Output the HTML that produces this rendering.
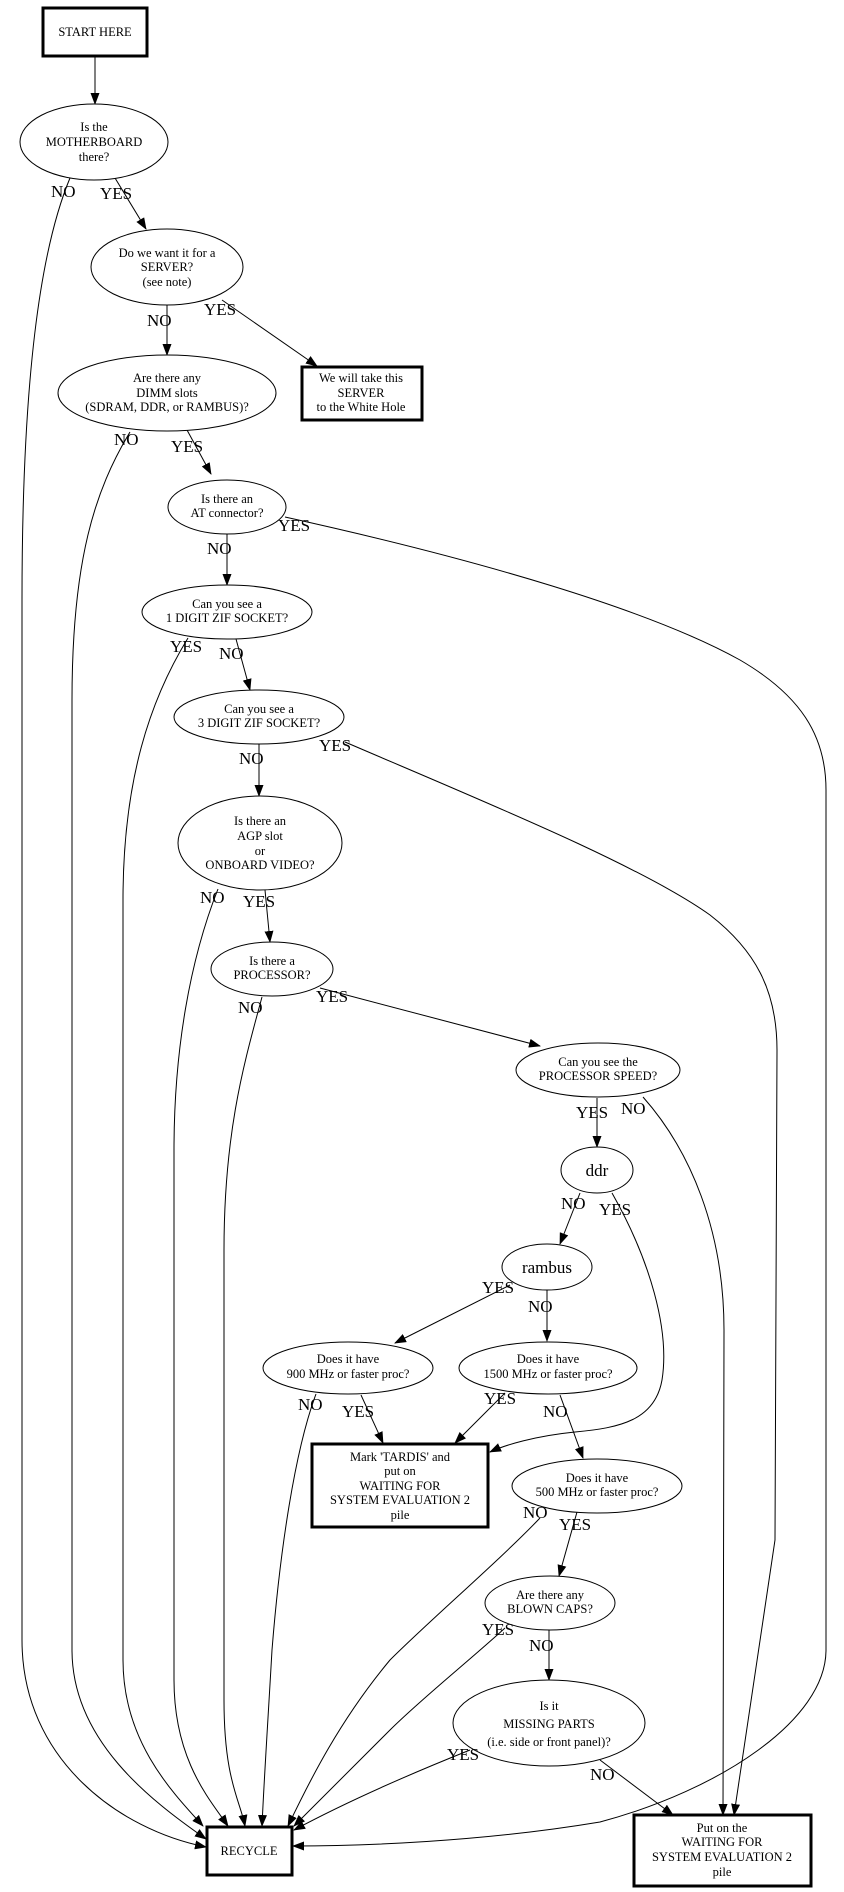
<!DOCTYPE html>
<html><head><meta charset="utf-8"><style>
html,body{margin:0;padding:0;background:#fff}
svg{display:block}
text{font-family:"Liberation Serif",serif;fill:#000}
.n{font-size:12.5px;text-anchor:middle}
.l{font-size:17px}
.e{fill:none;stroke:#000;stroke-width:1}
.s{fill:#fff;stroke:#000;stroke-width:1}
.b{fill:#fff;stroke:#000;stroke-width:3}
</style></head><body>
<svg width="844" height="1892" viewBox="0 0 844 1892" xmlns="http://www.w3.org/2000/svg">
<defs><marker id="a" markerWidth="12" markerHeight="9" refX="11" refY="4.5" orient="auto" markerUnits="userSpaceOnUse"><path d="M0,0 L12,4.5 L0,9 z" fill="#000"/></marker></defs>
<g class="e" marker-end="url(#a)">
<path d="M95,56 L95,104"/>
<path d="M70,178 C40,250 22,380 22,600 L22,1640 C22,1760 120,1830 206,1847"/>
<path d="M115,178 L146,229"/>
<path d="M167,305 L167,355"/>
<path d="M222,300 L317,366"/>
<path d="M130,432 C95,490 72,560 72,700 L72,1650 C72,1740 150,1800 206,1839"/>
<path d="M187,430 L211,474"/>
<path d="M227,534 L227,585"/>
<path d="M285,517 C480,560 650,610 740,660 C800,695 826,735 826,790 L826,1650 C826,1720 720,1790 600,1822 C480,1842 360,1846 293,1846"/>
<path d="M188,638 C150,700 123,780 123,900 L123,1660 C123,1740 170,1790 203,1826"/>
<path d="M236,639 L250,690"/>
<path d="M259,744 L259,796"/>
<path d="M345,742 C480,800 640,865 710,915 C755,950 777,990 777,1050 L775,1540 L734,1815"/>
<path d="M218,889 C190,960 174,1050 174,1150 L174,1680 C174,1760 210,1800 228,1826"/>
<path d="M265,890 L270,942"/>
<path d="M262,997 C245,1060 224,1130 224,1250 L224,1700 C224,1780 240,1800 245,1826"/>
<path d="M320,988 L540,1046"/>
<path d="M597,1098 L597,1147"/>
<path d="M643,1097 C690,1150 724,1230 724,1330 L723,1815"/>
<path d="M580,1193 L560,1244"/>
<path d="M612,1193 C650,1260 670,1330 662,1380 C655,1420 620,1428 575,1432 C535,1436 505,1445 490,1452"/>
<path d="M510,1285 L395,1343"/>
<path d="M547,1290 L547,1341"/>
<path d="M316,1394 C295,1450 280,1550 272,1650 C268,1720 264,1780 262,1826"/>
<path d="M361,1395 L383,1443"/>
<path d="M505,1393 L455,1443"/>
<path d="M560,1395 L583,1458"/>
<path d="M540,1518 C500,1560 430,1620 390,1660 C340,1720 310,1780 288,1826"/>
<path d="M577,1512 L559,1576"/>
<path d="M549,1630 L549,1680"/>
<path d="M505,1628 C470,1660 420,1700 390,1730 C350,1770 320,1800 294,1826"/>
<path d="M470,1750 C420,1770 350,1800 294,1830"/>
<path d="M600,1760 L673,1815"/>
</g>
<rect class="b" x="43" y="8" width="104" height="48"/>
<text class="n" x="95" y="36">START HERE</text>
<ellipse class="s" cx="94" cy="142" rx="74" ry="38"/>
<text class="n" x="94" y="131">Is the</text><text class="n" x="94" y="146">MOTHERBOARD</text><text class="n" x="94" y="161">there?</text>
<ellipse class="s" cx="167" cy="267" rx="76" ry="38"/>
<text class="n" x="167" y="257">Do we want it for a</text><text class="n" x="167" y="271">SERVER?</text><text class="n" x="167" y="286">(see note)</text>
<rect class="b" x="302" y="367" width="120" height="53"/>
<text class="n" x="361" y="382">We will take this</text><text class="n" x="361" y="397">SERVER</text><text class="n" x="361" y="411">to the White Hole</text>
<ellipse class="s" cx="167" cy="393" rx="109" ry="38"/>
<text class="n" x="167" y="382">Are there any</text><text class="n" x="167" y="397">DIMM slots</text><text class="n" x="167" y="411">(SDRAM, DDR, or RAMBUS)?</text>
<ellipse class="s" cx="227" cy="507" rx="59" ry="27"/>
<text class="n" x="227" y="503">Is there an</text><text class="n" x="227" y="517">AT connector?</text>
<ellipse class="s" cx="227" cy="612" rx="85" ry="27"/>
<text class="n" x="227" y="608">Can you see a</text><text class="n" x="227" y="622">1 DIGIT ZIF SOCKET?</text>
<ellipse class="s" cx="259" cy="717" rx="85" ry="27"/>
<text class="n" x="259" y="713">Can you see a</text><text class="n" x="259" y="727">3 DIGIT ZIF SOCKET?</text>
<ellipse class="s" cx="260" cy="843" rx="82" ry="47"/>
<text class="n" x="260" y="825">Is there an</text><text class="n" x="260" y="840">AGP slot</text><text class="n" x="260" y="855">or</text><text class="n" x="260" y="869">ONBOARD VIDEO?</text>
<ellipse class="s" cx="272" cy="969" rx="61" ry="27"/>
<text class="n" x="272" y="965">Is there a</text><text class="n" x="272" y="979">PROCESSOR?</text>
<ellipse class="s" cx="598" cy="1070" rx="82" ry="27"/>
<text class="n" x="598" y="1066">Can you see the</text><text class="n" x="598" y="1080">PROCESSOR SPEED?</text>
<ellipse class="s" cx="597" cy="1170" rx="36" ry="23"/>
<text class="n" x="597" y="1176" style="font-size:17px">ddr</text>
<ellipse class="s" cx="547" cy="1267" rx="45" ry="23"/>
<text class="n" x="547" y="1273" style="font-size:17px">rambus</text>
<ellipse class="s" cx="348" cy="1368" rx="85" ry="26"/>
<text class="n" x="348" y="1363">Does it have</text><text class="n" x="348" y="1378">900 MHz or faster proc?</text>
<ellipse class="s" cx="548" cy="1368" rx="89" ry="26"/>
<text class="n" x="548" y="1363">Does it have</text><text class="n" x="548" y="1378">1500 MHz or faster proc?</text>
<rect class="b" x="312" y="1444" width="176" height="83"/>
<text class="n" x="400" y="1461">Mark 'TARDIS' and</text><text class="n" x="400" y="1475">put on</text><text class="n" x="400" y="1490">WAITING FOR</text><text class="n" x="400" y="1504">SYSTEM EVALUATION 2</text><text class="n" x="400" y="1519">pile</text>
<ellipse class="s" cx="597" cy="1486" rx="85" ry="27"/>
<text class="n" x="597" y="1482">Does it have</text><text class="n" x="597" y="1496">500 MHz or faster proc?</text>
<ellipse class="s" cx="550" cy="1603" rx="65" ry="27"/>
<text class="n" x="550" y="1599">Are there any</text><text class="n" x="550" y="1613">BLOWN CAPS?</text>
<ellipse class="s" cx="549" cy="1723" rx="96" ry="43"/>
<text class="n" x="549" y="1710">Is it</text><text class="n" x="549" y="1728">MISSING PARTS</text><text class="n" x="549" y="1746">(i.e. side or front panel)?</text>
<rect class="b" x="634" y="1815" width="177" height="71"/>
<text class="n" x="722" y="1832">Put on the</text><text class="n" x="722" y="1846">WAITING FOR</text><text class="n" x="722" y="1861">SYSTEM EVALUATION 2</text><text class="n" x="722" y="1876">pile</text>
<rect class="b" x="207" y="1827" width="85" height="48"/>
<text class="n" x="249" y="1855">RECYCLE</text>
<g class="l">
<text x="51" y="197">NO</text><text x="100" y="199">YES</text>
<text x="147" y="326">NO</text><text x="204" y="315">YES</text>
<text x="114" y="445">NO</text><text x="171" y="452">YES</text>
<text x="207" y="554">NO</text><text x="278" y="531">YES</text>
<text x="170" y="652">YES</text><text x="219" y="659">NO</text>
<text x="239" y="764">NO</text><text x="319" y="751">YES</text>
<text x="200" y="903">NO</text><text x="243" y="907">YES</text>
<text x="238" y="1013">NO</text><text x="316" y="1002">YES</text>
<text x="576" y="1118">YES</text><text x="621" y="1114">NO</text>
<text x="561" y="1209">NO</text><text x="599" y="1215">YES</text>
<text x="482" y="1293">YES</text><text x="528" y="1312">NO</text>
<text x="298" y="1410">NO</text><text x="342" y="1417">YES</text>
<text x="484" y="1404">YES</text><text x="543" y="1417">NO</text>
<text x="523" y="1518">NO</text><text x="559" y="1530">YES</text>
<text x="482" y="1635">YES</text><text x="529" y="1651">NO</text>
<text x="447" y="1760">YES</text><text x="590" y="1780">NO</text>
</g>
</svg>
</body></html>
